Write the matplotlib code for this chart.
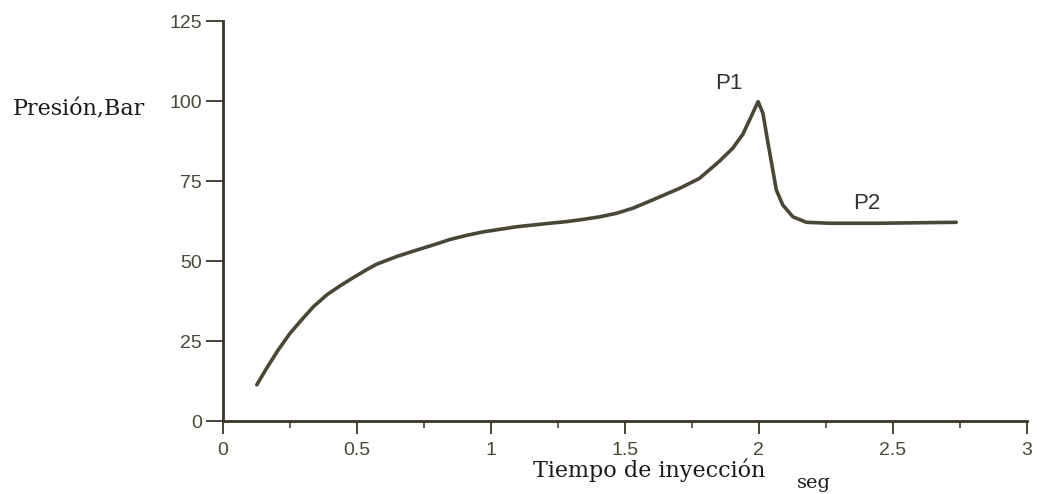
import matplotlib
matplotlib.use("Agg")
import matplotlib.pyplot as plt
from matplotlib.ticker import MultipleLocator

# Data
tiempo = [0.127, 0.164, 0.207, 0.251, 0.288, 0.338, 0.388, 0.437, 0.487, 0.537,
          0.574, 0.649, 0.723, 0.785, 0.847, 0.909, 0.971, 1.034, 1.096, 1.158,
          1.220, 1.282, 1.344, 1.406, 1.468, 1.530, 1.593, 1.704, 1.778, 1.853,
          1.903, 1.940, 1.972, 1.997, 2.015, 2.034, 2.052, 2.065, 2.089, 2.127,
          2.177, 2.263, 2.450, 2.736]
presion = [11.3, 16.5, 22.2, 27.4, 31.0, 35.7, 39.4, 42.2, 44.8, 47.3,
           49.0, 51.4, 53.4, 55.0, 56.7, 58.0, 59.1, 59.9, 60.7, 61.25,
           61.8, 62.3, 63.0, 63.8, 64.9, 66.5, 68.7, 72.7, 75.8, 81.2,
           85.3, 89.6, 95.3, 99.8, 96.2, 86.8, 78.4, 72.2, 67.5, 63.8,
           62.1, 61.8, 61.8, 62.1]
x_ticks = [0, 0.5, 1, 1.5, 2, 2.5, 3]
x_tick_labels = ["0", "0.5", "1", "1.5", "2", "2.5", "3"]
y_ticks = [0, 25, 50, 75, 100, 125]
y_tick_labels = ["0", "25", "50", "75", "100", "125"]
peak_labels = [("P1", 1.887, 105.5), ("P2", 2.403, 68.1)]

plt.rcParams["font.family"] = ["Liberation Sans", "DejaVu Sans"]

line_col = "#4b4737"
axis_col = "#3a3428"
tick_lab_col = "#4a4838"
text_col = "#1a1a1a"

fig = plt.figure(figsize=(10.37, 4.94), dpi=100)
ax = fig.add_axes([222.7 / 1037, 73 / 494, (1027 - 222.7) / 1037, (421 - 21) / 494])

ax.plot(tiempo, presion, color=line_col, lw=2.6, solid_capstyle="round",
        solid_joinstyle="round")

ax.set_xlim(0, 3)
ax.set_ylim(0, 125)
for s in ["top", "right"]:
    ax.spines[s].set_visible(False)
for s in ["left", "bottom"]:
    ax.spines[s].set_color(axis_col)
    ax.spines[s].set_linewidth(2.0)

ax.set_xticks(x_ticks)
ax.set_xticklabels(x_tick_labels, fontfamily="Liberation Sans")
ax.set_yticks(y_ticks)
ax.set_yticklabels(y_tick_labels, fontfamily="Liberation Sans")
ax.xaxis.set_minor_locator(MultipleLocator(0.25))
ax.tick_params(axis="x", which="major", direction="out", length=9, width=1.3,
               color=axis_col, labelsize=14, labelcolor=tick_lab_col, pad=6)
ax.tick_params(axis="x", which="minor", direction="out", length=5, width=1.1,
               color=axis_col)
ax.tick_params(axis="y", which="major", direction="out", length=12, width=1.3,
               color=axis_col, labelsize=14, labelcolor=tick_lab_col, pad=3)

for txt, xx, yy in peak_labels:
    ax.text(xx, yy, txt, fontsize=16, color="#333333", family="Liberation Sans",
            ha="center", va="center")

fig.text(13 / 1037, 1 - 115 / 494, "Presión,Bar", fontsize=16, family="DejaVu Serif",
         ha="left", va="baseline", color=text_col)
fig.text(533 / 1037, 1 - 477 / 494, "Tiempo de inyección", fontsize=16,
         family="DejaVu Serif", ha="left", va="baseline", color=text_col)
fig.text(797 / 1037, 1 - 488 / 494, "seg", fontsize=14, family="DejaVu Serif",
         ha="left", va="baseline", color=text_col)

fig.savefig("out.png", dpi=100)
